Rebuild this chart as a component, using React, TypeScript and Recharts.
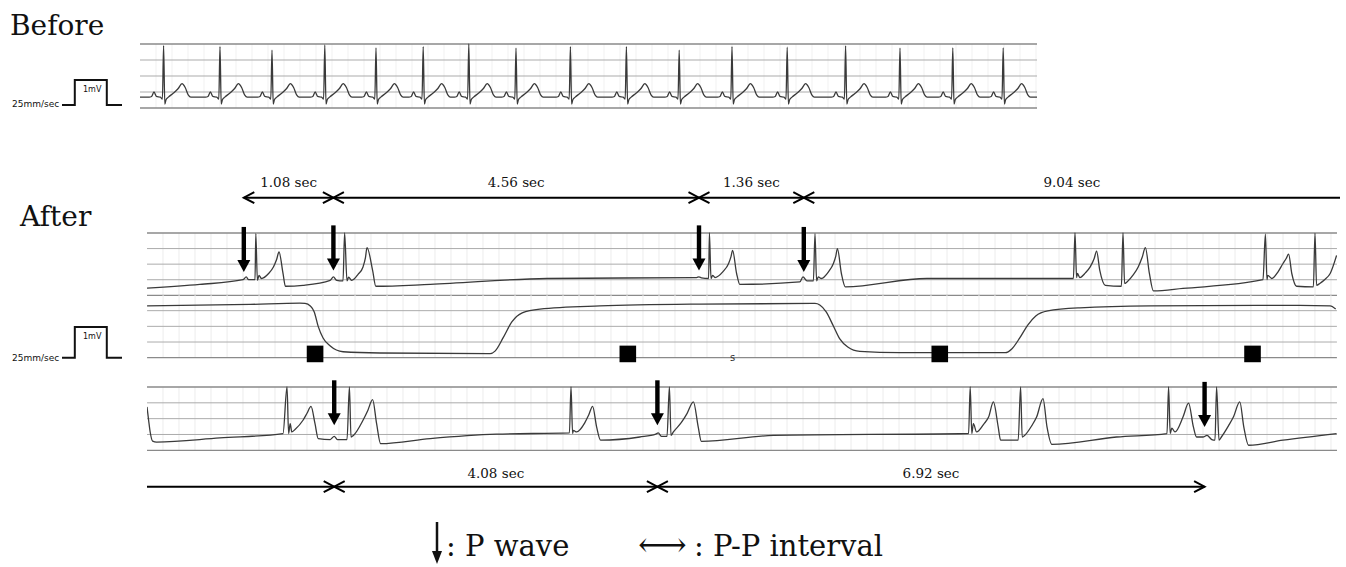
import React from 'react';
import { ComposedChart, Line, Scatter, XAxis, YAxis, ReferenceLine } from 'recharts';

// ----------------------------- data -----------------------------
// Before strip: R-wave times (s) and R peak heights (mm above strip bottom)
const beforeRTimes = [0.295, 1.0, 1.65, 2.31, 2.95, 3.54, 4.11, 4.7, 5.38, 6.08, 6.74, 7.4, 8.09, 8.82, 9.5, 10.16, 10.79];
const beforeRPeaks = [19.5, 19.2, 18.1, 19.7, 18.8, 19.2, 20.0, 18.7, 19.2, 19.2, 18.1, 19.2, 19.0, 19.4, 18.7, 18.8, 18.8];
const beforeBaseline = 3.4;
// one beat of the Before rhythm: time offset from R (s) and height above baseline (mm); R itself is taken from beforeRPeaks
const beatOffsetT = [-0.18, -0.15, -0.12, -0.09, -0.04, -0.015, 0, 0.015, 0.03, 0.06, 0.12, 0.18, 0.23, 0.27, 0.31, 0.34];
const beatOffsetV = [0, 0.2, 1.6, 0.2, 0, -0.6, 0, -2.2, -0.8, 0, 1.2, 2.6, 4.2, 3.0, 0.6, 0];

// After strips: [time s, mm above strip bottom]
const topTrace = [
  [0.0, 2.3], [0.66, 3.5], [1.2, 5.0], [1.24, 5.9], [1.27, 5.0], [1.35, 5.0], [1.36, 19.8], [1.38, 4.8], [1.4, 6.4], [1.43, 5.4],
  [1.52, 7.0], [1.58, 9.1], [1.62, 11.5], [1.65, 13.9], [1.7, 7.0], [1.73, 2.9], [1.95, 3.2], [2.29, 4.8], [2.33, 5.9], [2.37, 4.8],
  [2.45, 4.6], [2.47, 20.0], [2.5, 4.6], [2.52, 5.8], [2.56, 4.8], [2.64, 6.8], [2.7, 9.1], [2.73, 12.0], [2.75, 15.3], [2.82, 8.0],
  [2.86, 2.9], [3.54, 3.5], [5.0, 5.4], [6.87, 5.7], [6.9, 5.9], [6.93, 5.6], [7.02, 5.4], [7.03, 20.0], [7.05, 5.4], [7.07, 6.4],
  [7.1, 5.7], [7.2, 7.6], [7.27, 10.2], [7.3, 12.4], [7.32, 14.4], [7.37, 7.0], [7.41, 3.5], [8.16, 4.3], [8.2, 5.9], [8.25, 4.6],
  [8.33, 4.6], [8.35, 19.8], [8.37, 4.6], [8.39, 5.9], [8.43, 5.4], [8.52, 7.6], [8.58, 10.2], [8.61, 12.6], [8.63, 15.0], [8.68, 7.0],
  [8.73, 2.7], [9.75, 5.4], [11.58, 5.4], [11.6, 20.0], [11.62, 5.7], [11.63, 7.0], [11.66, 5.7], [11.73, 7.2], [11.79, 9.1], [11.84, 11.8],
  [11.87, 14.2], [11.91, 8.0], [11.98, 3.2], [12.18, 2.9], [12.2, 20.0], [12.22, 3.8], [12.25, 4.3], [12.33, 6.6], [12.39, 9.1], [12.44, 12.2],
  [12.48, 15.3], [12.53, 7.0], [12.58, 1.4], [12.95, 2.2], [13.95, 5.0], [13.98, 19.6], [14.0, 5.0], [14.01, 6.4], [14.06, 5.4], [14.14, 7.6],
  [14.2, 10.2], [14.24, 11.8], [14.27, 13.2], [14.31, 7.0], [14.37, 2.9], [14.58, 2.7], [14.6, 19.9], [14.62, 3.2], [14.66, 3.8], [14.72, 5.0],
  [14.79, 7.0], [14.87, 12.8],
];
const midTrace = [
  [0, 16.5], [1.29, 17.0], [1.91, 17.4], [1.975, 17.3], [2.04, 16.5], [2.09, 14.6], [2.14, 9.9], [2.2, 6.3], [2.29, 3.7], [2.45, 1.9],
  [2.91, 1.5], [4.29, 1.3], [4.35, 2.1], [4.45, 6.3], [4.56, 11.4], [4.69, 14.3], [4.91, 15.5], [5.66, 16.5], [6.91, 17.1], [8.35, 17.3],
  [8.41, 16.8], [8.49, 14.6], [8.58, 10.1], [8.66, 6.0], [8.76, 3.4], [8.91, 2.0], [9.41, 1.6], [10.73, 1.6], [10.81, 2.8], [10.91, 6.3],
  [11.01, 10.4], [11.11, 13.3], [11.26, 14.9], [11.66, 15.9], [12.54, 16.5], [14.41, 16.7], [14.79, 16.5], [14.86, 15.5],
];
const botTrace = [
  [0.0, 13.7], [0.02, 9.5], [0.04, 5.7], [0.07, 2.9], [0.12, 2.6], [0.91, 3.9], [1.7, 5.3], [1.75, 20.0], [1.77, 5.3], [1.79, 8.4],
  [1.81, 5.8], [1.85, 6.6], [1.95, 9.5], [2.0, 11.7], [2.05, 13.9], [2.1, 8.4], [2.14, 3.7], [2.29, 3.4], [2.34, 4.4], [2.38, 3.4],
  [2.5, 3.4], [2.53, 20.0], [2.55, 4.2], [2.58, 4.7], [2.7, 9.5], [2.76, 12.6], [2.82, 16.0], [2.87, 8.4], [2.92, 2.1], [3.54, 3.7],
  [4.37, 5.1], [5.28, 5.5], [5.3, 20.0], [5.32, 5.3], [5.33, 6.3], [5.37, 5.8], [5.47, 8.6], [5.52, 11.1], [5.57, 13.9], [5.62, 7.4],
  [5.67, 3.2], [6.16, 4.2], [6.36, 5.1], [6.39, 5.5], [6.43, 4.4], [6.5, 4.4], [6.53, 20.0], [6.55, 4.7], [6.58, 5.8], [6.68, 8.8],
  [6.75, 11.6], [6.83, 15.3], [6.89, 7.4], [6.93, 2.8], [7.83, 4.7], [10.27, 5.3], [10.29, 20.0], [10.31, 5.3], [10.33, 8.4], [10.37, 5.8],
  [10.46, 8.3], [10.52, 10.5], [10.58, 15.3], [10.64, 7.4], [10.67, 3.2], [10.89, 3.2], [10.92, 20.0], [10.94, 4.2], [10.97, 4.7], [11.06, 7.8],
  [11.12, 10.5], [11.2, 16.3], [11.25, 7.4], [11.31, 1.9], [12.12, 4.2], [12.75, 5.3], [12.77, 20.0], [12.79, 5.3], [12.81, 7.0], [12.85, 5.8],
  [12.95, 10.5], [13.02, 14.9], [13.08, 7.4], [13.12, 4.2], [13.2, 4.2], [13.25, 4.7], [13.31, 3.4], [13.35, 3.2], [13.37, 20.0], [13.4, 3.2],
  [13.43, 4.2], [13.52, 7.8], [13.58, 10.5], [13.66, 15.3], [13.71, 7.4], [13.77, 1.6], [14.2, 3.2], [14.87, 5.3],
];

// P waves (time s, arrow tip mm)
const topPWaveT = [1.21, 2.33, 6.9, 8.21];
const topPWaveTip = [7.5, 8.0, 8.0, 7.5];
const botPWaveT = [2.34, 6.38, 13.22];
const botPWaveTip = [7.9, 7.9, 7.4];

// event markers on the middle channel
const markerT = [2.1, 6.01, 9.91, 13.82];
const markerLevel = 1.2;
const sMarkT = 7.32;

// P-P intervals (null = runs off the strip)
const topIntervalStart = [1.21, 2.33, 6.9, 8.21];
const topIntervalEnd: (number | null)[] = [2.33, 6.9, 8.21, null];
const topIntervalLabel = ['1.08 sec', '4.56 sec', '1.36 sec', '9.04 sec'];
const botIntervalStart: (number | null)[] = [null, 2.34, 6.38];
const botIntervalEnd = [2.34, 6.38, 13.22];
const botIntervalLabel = ['', '4.08 sec', '6.92 sec'];

// calibration pulse (s, mV)
const calT = [0, 0.16, 0.16, 0.56, 0.56, 0.75];
const calMv = [0, 0, 1, 1, 0, 0];

// ----------------------------- layout / style -----------------------------
const PX_PER_SEC = 80;
const SERIF = '"DejaVu Serif", serif';
const SANS = '"DejaVu Sans", sans-serif';
const TRACE = '#3a3a3a';

const BEFORE = { left: 140, top: 44, w: 897, h: 64 };
const AFTER_LEFT = 147;
const AFTER_W = 1190;
const TOP_STRIP = { top: 232.7, h: 62.3 };
const MID_STRIP = { top: 295, h: 62.7 };
const BOT_STRIP = { top: 386.7, h: 63.3 };
const ANNOT_W = 1193;

type Pt = { t: number; v: number; [k: string]: any };
const toPts = (pairs: number[][]): Pt[] => pairs.map(([t, v]) => ({ t, v }));

const beforeXMax = BEFORE.w / PX_PER_SEC;
const afterXMax = AFTER_W / PX_PER_SEC;
const annotXMax = ANNOT_W / PX_PER_SEC;

const beforeData: Pt[] = (() => {
  const pts: Pt[] = [{ t: 0, v: beforeBaseline }];
  beforeRTimes.forEach((r, i) => {
    beatOffsetT.forEach((dt, j) => {
      pts.push({ t: +(r + dt).toFixed(4), v: dt === 0 ? beforeRPeaks[i] : beforeBaseline + beatOffsetV[j] });
    });
  });
  pts.push({ t: beforeXMax, v: beforeBaseline });
  return pts;
})();

const calData = calT.map((t, i) => ({ t, v: calMv[i] }));

function intervalsData(starts: (number | null)[], ends: (number | null)[], labels: string[], xMax: number) {
  const segs: { s: number; e: number }[] = [];
  const heads: Pt[] = [];
  const texts: Pt[] = [];
  starts.forEach((s0, i) => {
    const e0 = ends[i];
    const s = s0 == null ? 0 : s0;
    const e = e0 == null ? xMax : Math.min(e0, xMax);
    segs.push({ s, e });
    if (s0 != null) heads.push({ t: s, v: 0, dir: -1 });
    if (e0 != null && e0 <= xMax) heads.push({ t: e, v: 0, dir: 1 });
    if (labels[i]) texts.push({ t: (s + e) / 2, v: 0, label: labels[i] });
  });
  return { segs, heads, texts };
}

// ----------------------------- shapes -----------------------------
const PArrow = (p: any) => {
  const { cx, cy } = p;
  if (cx == null || cy == null) return <g />;
  return (
    <g>
      <rect x={cx - 2.2} y={cy - 45} width={4.4} height={34} fill="#000" />
      <polygon points={`${cx - 6.5},${cy - 12} ${cx + 6.5},${cy - 12} ${cx},${cy}`} fill="#000" />
    </g>
  );
};

const SquareMark = (p: any) => {
  const { cx, cy } = p;
  if (cx == null || cy == null) return <g />;
  return <rect x={cx - 8.3} y={cy - 8.3} width={16.6} height={16.6} fill="#000" />;
};

const SText = (p: any) => {
  const { cx, cy } = p;
  if (cx == null || cy == null) return <g />;
  return (
    <text x={cx} y={cy + 3} textAnchor="middle" fontFamily={SANS} fontSize={10} fill="#333">
      s
    </text>
  );
};

const makeChevron = (lineY: number) => (p: any) => {
  const { cx, payload } = p;
  if (cx == null) return <g />;
  const d = payload.dir;
  return (
    <polyline
      points={`${cx - d * 10.5},${lineY - 5.5} ${cx},${lineY} ${cx - d * 10.5},${lineY + 5.5}`}
      fill="none"
      stroke="#000"
      strokeWidth={2}
    />
  );
};

const makeLabel = (textY: number) => (p: any) => {
  const { cx, payload } = p;
  if (cx == null) return <g />;
  return (
    <text x={cx} y={textY} textAnchor="middle" fontFamily={SERIF} fontSize={13.5} fill="#111">
      {payload.label}
    </text>
  );
};

function gridEls(prefix: string, xMax: number, levels: number[], outer: number[], vColor: string) {
  const els: React.ReactElement[] = [];
  for (let k = 1; k * 0.2 < xMax - 0.01; k++) {
    els.push(<ReferenceLine key={`${prefix}v${k}`} x={+(k * 0.2).toFixed(2)} stroke={vColor} strokeWidth={1} />);
  }
  levels.forEach((y) =>
    els.push(
      <ReferenceLine
        key={`${prefix}h${y}`}
        y={y}
        stroke={outer.includes(y) ? '#8a8a8a' : '#ababab'}
        strokeWidth={outer.includes(y) ? 1.3 : 1}
      />
    )
  );
  return els;
}

// ----------------------------- charts -----------------------------
function StripChart(props: {
  left: number;
  plotTop: number;
  plotH: number;
  width: number;
  xMax: number;
  padTop: number;
  padBottom: number;
  children: React.ReactNode;
}) {
  const { left, plotTop, plotH, width, xMax, padTop, padBottom, children } = props;
  return (
    <div style={{ position: 'absolute', left, top: plotTop - padTop }}>
      <ComposedChart
        width={width}
        height={plotH + padTop + padBottom}
        margin={{ top: padTop, bottom: padBottom, left: 0, right: 0 }}
      >
        <XAxis type="number" dataKey="t" domain={[0, xMax]} hide />
        <YAxis type="number" dataKey="v" domain={[0, 20]} hide />
        {children}
      </ComposedChart>
    </div>
  );
}

function AnnotChart(props: {
  top: number;
  starts: (number | null)[];
  ends: (number | null)[];
  labels: string[];
  lineY: number;
  textY: number;
}) {
  const { top, starts, ends, labels, lineY, textY } = props;
  const { segs, heads, texts } = intervalsData(starts, ends, labels, annotXMax);
  return (
    <div style={{ position: 'absolute', left: AFTER_LEFT, top }}>
      <ComposedChart width={ANNOT_W} height={40} margin={{ top: 0, bottom: 0, left: 0, right: 0 }}>
        <XAxis type="number" dataKey="t" domain={[0, annotXMax]} hide />
        <YAxis type="number" dataKey="v" domain={[0, 40]} reversed hide />
        {segs.map((sg, i) => (
          <ReferenceLine
            key={`seg${i}`}
            segment={[
              { x: sg.s, y: lineY },
              { x: sg.e, y: lineY },
            ]}
            stroke="#000"
            strokeWidth={2}
          />
        ))}
        <Scatter data={heads} dataKey="v" shape={makeChevron(lineY)} isAnimationActive={false} />
        <Scatter data={texts} dataKey="v" shape={makeLabel(textY)} isAnimationActive={false} />
      </ComposedChart>
    </div>
  );
}

function CalChart(props: { left: number; top: number; h: number }) {
  const { left, top, h } = props;
  const w = calT[calT.length - 1] * PX_PER_SEC;
  return (
    <div style={{ position: 'absolute', left, top: top - 2 }}>
      <ComposedChart width={w} height={h + 4} margin={{ top: 2, bottom: 2, left: 0, right: 0 }}>
        <XAxis type="number" dataKey="t" domain={[0, calT[calT.length - 1]]} hide />
        <YAxis type="number" dataKey="v" domain={[0, 1]} hide />
        <Line data={calData} dataKey="v" type="linear" stroke="#111" strokeWidth={2} dot={false} activeDot={false} isAnimationActive={false} />
      </ComposedChart>
    </div>
  );
}

export default function App() {
  const topPts = toPts(topTrace);
  const midPts = toPts(midTrace);
  const botPts = toPts(botTrace);
  const topArrows = topPWaveT.map((t, i) => ({ t, v: topPWaveTip[i] }));
  const botArrows = botPWaveT.map((t, i) => ({ t, v: botPWaveTip[i] }));
  const markers = markerT.map((t) => ({ t, v: markerLevel }));
  const levels = [0, 5, 10, 15, 20];

  return (
    <div style={{ position: 'absolute', left: 0, top: 0, width: 1346, height: 567, background: '#fff', overflow: 'hidden' }}>
      <svg width={1346} height={567} style={{ position: 'absolute', left: 0, top: 0 }}>
        <text x={10} y={35} fontFamily={SERIF} fontSize={28} fill="#111">Before</text>
        <text x={20} y={226} fontFamily={SERIF} fontSize={28} fill="#111">After</text>
        <text x={12} y={107} fontFamily={SANS} fontSize={9} fill="#111">25mm/sec</text>
        <text x={83} y={92} fontFamily={SANS} fontSize={8} fill="#111">1mV</text>
        <text x={12} y={361} fontFamily={SANS} fontSize={9} fill="#111">25mm/sec</text>
        <text x={83} y={339} fontFamily={SANS} fontSize={8} fill="#111">1mV</text>
        {/* legend */}
        <line x1={437} y1={522} x2={437} y2={553} stroke="#111" strokeWidth={2.5} />
        <polygon points="432,551 442,551 437,564" fill="#111" />
        <text x={446} y={556} fontFamily={SERIF} fontSize={29} fill="#111">: P wave</text>
        <text x={638} y={556} fontFamily={SERIF} fontSize={34} fill="#111">⟷</text>
        <text x={694} y={556} fontFamily={SERIF} fontSize={29} fill="#111">: P-P interval</text>
      </svg>

      <CalChart left={62} top={80} h={25} />
      <CalChart left={62} top={327} h={30.7} />

      {/* Before strip */}
      <StripChart left={BEFORE.left} plotTop={BEFORE.top} plotH={BEFORE.h} width={BEFORE.w} xMax={beforeXMax} padTop={4} padBottom={4}>
        {gridEls('b', beforeXMax, levels, [0, 20], '#f1f1f1')}
        <Line data={beforeData} dataKey="v" type="monotone" stroke={TRACE} strokeWidth={1.3} dot={false} activeDot={false} isAnimationActive={false} />
      </StripChart>

      {/* After: top strip */}
      <StripChart left={AFTER_LEFT} plotTop={TOP_STRIP.top} plotH={TOP_STRIP.h} width={AFTER_W} xMax={afterXMax} padTop={50} padBottom={3}>
        {gridEls('t', afterXMax, levels, [0, 20], '#ececec')}
        <Line data={topPts} dataKey="v" type="monotone" stroke={TRACE} strokeWidth={1.3} dot={false} activeDot={false} isAnimationActive={false} />
        <Scatter data={topArrows} dataKey="v" shape={PArrow} isAnimationActive={false} />
      </StripChart>

      {/* After: middle channel */}
      <StripChart left={AFTER_LEFT} plotTop={MID_STRIP.top} plotH={MID_STRIP.h} width={AFTER_W} xMax={afterXMax} padTop={5} padBottom={12}>
        {gridEls('m', afterXMax, [0, 5, 10, 15], [0], '#ececec')}
        <Line data={midPts} dataKey="v" type="monotone" stroke={TRACE} strokeWidth={1.3} dot={false} activeDot={false} isAnimationActive={false} />
        <Scatter data={markers} dataKey="v" shape={SquareMark} isAnimationActive={false} />
        <Scatter data={[{ t: sMarkT, v: 0 }]} dataKey="v" shape={SText} isAnimationActive={false} />
      </StripChart>

      {/* After: bottom strip */}
      <StripChart left={AFTER_LEFT} plotTop={BOT_STRIP.top} plotH={BOT_STRIP.h} width={AFTER_W} xMax={afterXMax} padTop={50} padBottom={3}>
        {gridEls('o', afterXMax, levels, [0, 20], '#ececec')}
        <Line data={botPts} dataKey="v" type="monotone" stroke={TRACE} strokeWidth={1.3} dot={false} activeDot={false} isAnimationActive={false} />
        <Scatter data={botArrows} dataKey="v" shape={PArrow} isAnimationActive={false} />
      </StripChart>

      <AnnotChart top={170} starts={topIntervalStart} ends={topIntervalEnd} labels={topIntervalLabel} lineY={27.7} textY={17} />
      <AnnotChart top={460} starts={botIntervalStart} ends={botIntervalEnd} labels={botIntervalLabel} lineY={26.7} textY={18} />
    </div>
  );
}
